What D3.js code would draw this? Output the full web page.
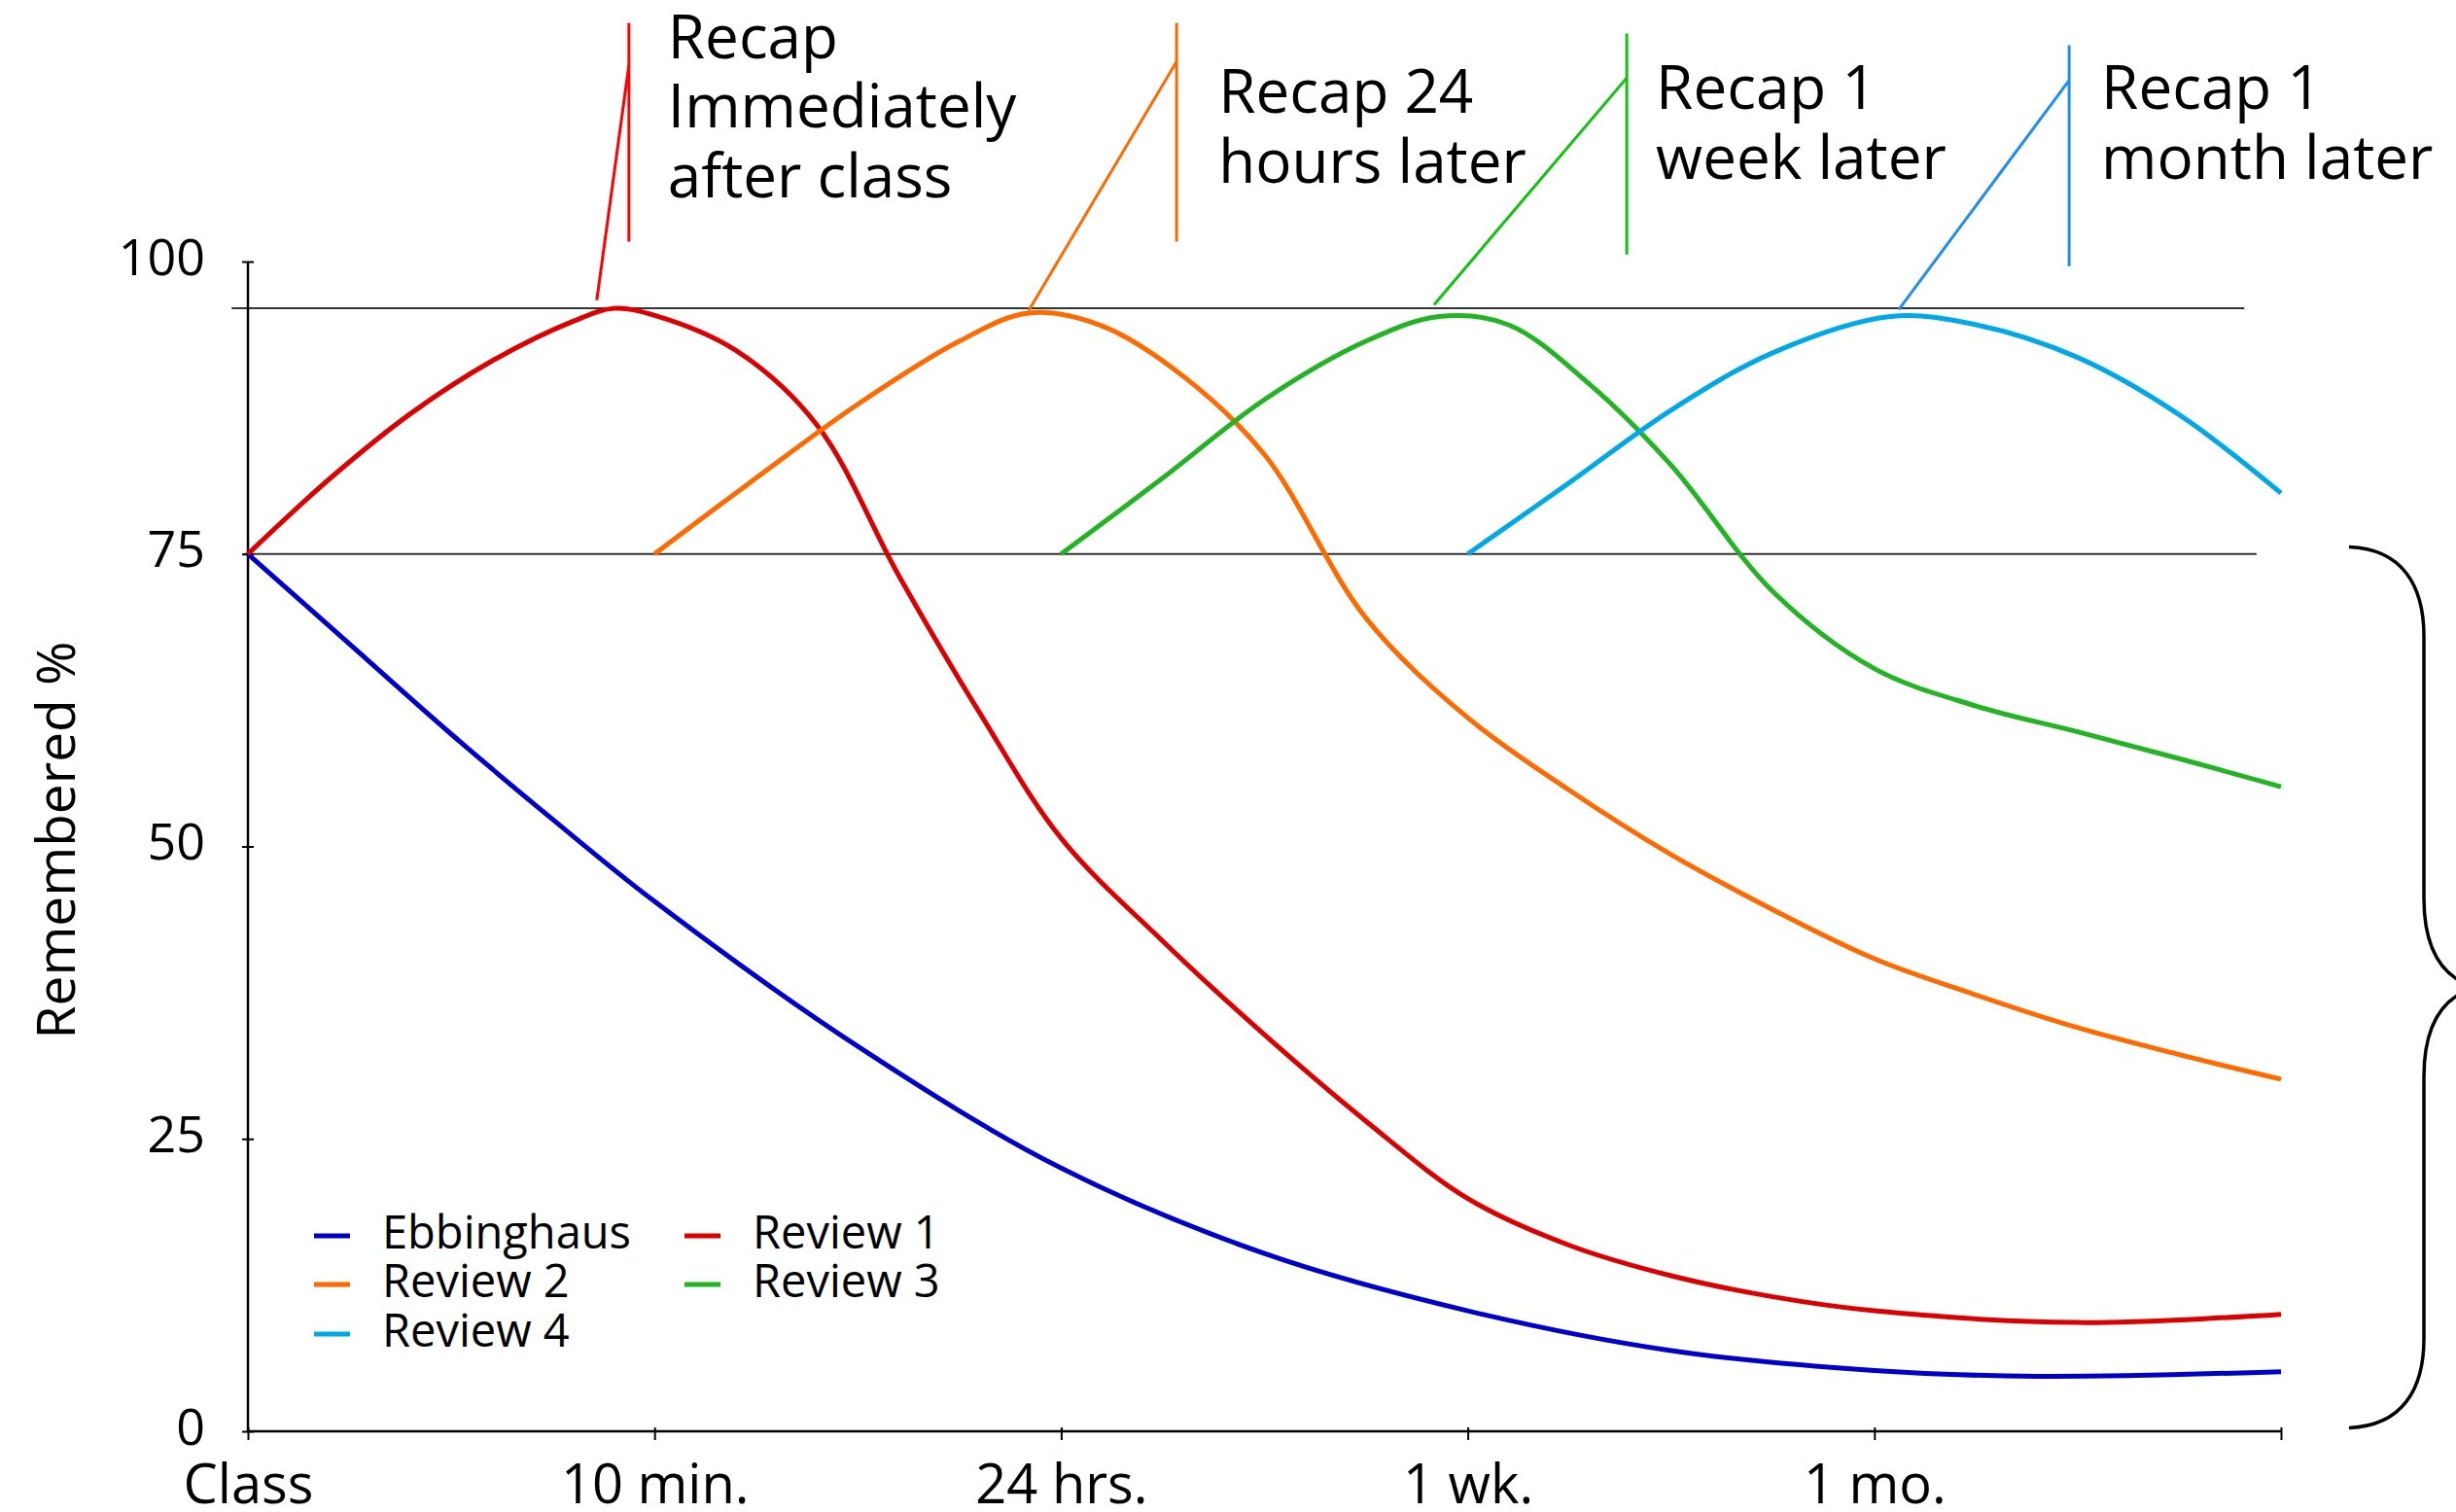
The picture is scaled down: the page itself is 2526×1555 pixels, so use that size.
<!DOCTYPE html>
<html>
<head>
<meta charset="utf-8">
<script src="https://cdn.jsdelivr.net/npm/d3@7"></script>
<style>
  html, body { margin: 0; padding: 0; background: #ffffff; }
  svg { display: block; }
  text { font-family: "Open Sans", "Noto Sans", sans-serif; fill: #000; }
</style>
</head>
<body>
<svg id="chart" width="2526" height="1555"></svg>
<script>
// ---------- data ----------
const categories = ["Class", "10 min.", "24 hrs.", "1 wk.", "1 mo.", ""];
const yTickValues = [0, 25, 50, 75, 100];
const seriesNames = ["Ebbinghaus", "Review 1", "Review 2", "Review 3", "Review 4"];
const seriesColors = ["#0000cc", "#dd0000", "#ff6a00", "#22b422", "#00a8e8"];
const leaderColors = ["#ff0000", "#ff6a00", "#11c211", "#1e8ff0"];
const referenceLevels = [96, 75];

// [time position (category index), remembered %]
const ebbinghaus = [[0,75],[0.25,67.3],[0.5,59.6],[0.75,52.3],[1,45.3],[1.5,32.9],[2,22.5],[2.5,15.2],[3,10.3],[3.5,6.9],[4,5.2],[4.4,4.7],[5,5.1]];
const review1 = [[0,75],[0.2,81.4],[0.4,87.0],[0.6,91.5],[0.8,94.9],[0.9,96.0],[1.0,95.4],[1.2,92.4],[1.4,86.0],[1.6,73.2],[1.8,61.4],[2,50.7],[2.25,41.9],[2.5,33.9],[2.75,26.5],[3,19.9],[3.25,15.9],[3.5,13.3],[3.75,11.5],[4,10.3],[4.5,9.3],[5,10]];
const review2 = [[1,75],[1.25,81.5],[1.5,87.8],[1.75,93.2],[1.92,95.6],[2.1,94.5],[2.3,90.2],[2.5,83.5],[2.75,69.5],[3,61],[3.25,54.8],[3.5,49.3],[3.75,44.6],[4,40.4],[4.25,37.3],[4.5,34.5],[4.75,32.2],[5,30.1]];
const review3 = [[2,75],[2.25,81.5],[2.5,88.2],[2.75,93.2],[2.93,95.3],[3.1,94.6],[3.3,89.5],[3.5,82.6],[3.75,71.8],[4,65.2],[4.25,62.0],[4.5,59.8],[4.75,57.5],[5,55.1]];
const review4 = [[3,75],[3.25,81.1],[3.5,87.3],[3.75,92.2],[4.04,95.3],[4.25,94.6],[4.5,91.8],[4.75,86.9],[5,80.2]];
const seriesData = [ebbinghaus, review1, review2, review3, review4];

const recapLabels = [
  ["Recap", "Immediately", "after class"],
  ["Recap 24", "hours later"],
  ["Recap 1", "week later"],
  ["Recap 1", "month later"]
];

// ---------- layout ----------
const svg = d3.select("#chart");
svg.append("rect").attr("width", 2526).attr("height", 1555).attr("fill", "#fff");

const x = d3.scaleLinear().domain([0, 5]).range([255, 2346]);
const y = d3.scaleLinear().domain([0, 100]).range([1472, 269]);

// reference lines
const refExtents = [[-0.04, 4.91], [-0.01, 4.94]];
referenceLevels.forEach((lv, i) => {
  svg.append("line")
    .attr("x1", x(refExtents[i][0])).attr("x2", x(refExtents[i][1]))
    .attr("y1", y(lv)).attr("y2", y(lv))
    .attr("stroke", "#333").attr("stroke-width", 2);
});

// axes
const yAxis = d3.axisLeft(y).tickValues(yTickValues).tickSize(6).tickFormat(d3.format("d"));
const gy = svg.append("g").attr("transform", `translate(${x(0)},0)`).call(yAxis);
gy.select(".domain").remove();
gy.append("line").attr("x1", 0).attr("x2", 0).attr("y1", y(0)).attr("y2", y(100))
  .attr("stroke", "#000").attr("stroke-width", 2.5);
gy.selectAll(".tick line").attr("x1", -6).attr("x2", 6).attr("stroke", "#000").attr("stroke-width", 2);
gy.selectAll(".tick text").attr("x", -44).attr("dy", null).attr("y", 13)
  .style("font-size", "52px").style("font-family", "'Open Sans', sans-serif").attr("fill", "#000");

const xAxis = d3.axisBottom(x).tickValues(d3.range(categories.length)).tickSize(8)
  .tickFormat(i => categories[i]);
const gx = svg.append("g").attr("transform", `translate(0,${y(0)})`).call(xAxis);
gx.select(".domain").remove();
gx.append("line").attr("x1", x(0)).attr("x2", x(5)).attr("y1", 0).attr("y2", 0)
  .attr("stroke", "#000").attr("stroke-width", 2.5);
gx.selectAll(".tick line").attr("y1", -4).attr("y2", 9).attr("stroke", "#000").attr("stroke-width", 2);
gx.selectAll(".tick text").attr("dy", null).attr("y", 74)
  .style("font-size", "56px").style("font-family", "'Open Sans', sans-serif").attr("fill", "#000");

// axis title
svg.append("text")
  .attr("transform", "translate(77,864) rotate(-90)")
  .attr("text-anchor", "middle")
  .style("font-size", "55px")
  .text("Remembered %");

// curves
const line = d3.line().x(d => x(d[0])).y(d => y(d[1])).curve(d3.curveCatmullRom.alpha(0.5));
seriesData.forEach((s, i) => {
  svg.append("path").datum(s)
    .attr("d", line)
    .attr("fill", "none")
    .attr("stroke", seriesColors[i])
    .attr("stroke-width", 5)
    .attr("stroke-linejoin", "round");
});

// annotations (in data units)
const annot = [
  { anchor: [0.858, 96.7], lineT: 0.937, elbowV: 116.8, top: 120.4, bottom: 101.7, dx: 40, firstV: 117.4 },
  { anchor: [1.920, 95.8], lineT: 2.284, elbowV: 117.1, top: 120.4, bottom: 101.7, dx: 43, firstV: 112.7 },
  { anchor: [2.917, 96.3], lineT: 3.391, elbowV: 115.7, top: 119.5, bottom: 100.6, dx: 30, firstV: 113.05 },
  { anchor: [4.060, 95.9], lineT: 4.479, elbowV: 115.5, top: 118.5, bottom: 99.6, dx: 33, firstV: 113.05 }
];
annot.forEach((a, i) => {
  const g = svg.append("g");
  g.append("line")
    .attr("x1", x(a.lineT)).attr("x2", x(a.lineT))
    .attr("y1", y(a.top)).attr("y2", y(a.bottom))
    .attr("stroke", leaderColors[i]).attr("stroke-width", 3);
  g.append("line")
    .attr("x1", x(a.anchor[0])).attr("y1", y(a.anchor[1]))
    .attr("x2", x(a.lineT)).attr("y2", y(a.elbowV))
    .attr("stroke", leaderColors[i]).attr("stroke-width", 3);
  const t = g.append("text")
    .attr("x", x(a.lineT) + a.dx).attr("y", y(a.firstV))
    .style("font-size", "62px");
  recapLabels[i].forEach((s, k) => {
    t.append("tspan").attr("x", x(a.lineT) + a.dx).attr("dy", k === 0 ? 0 : 71.5).text(s);
  });
});

// legend (2 columns, row-major)
const legendCols = [323, 704];
const legendRows = [1271, 1321, 1372];
seriesNames.forEach((name, i) => {
  const cx = legendCols[i % 2], cy = legendRows[Math.floor(i / 2)];
  svg.append("line").attr("x1", cx).attr("x2", cx + 37).attr("y1", cy).attr("y2", cy)
    .attr("stroke", seriesColors[i]).attr("stroke-width", 5);
  svg.append("text").attr("x", cx + 70).attr("y", cy + 13)
    .style("font-size", "47px").text(name);
});

// brace on the right spanning 0..75
const bx = x(5);
const yt = y(75.6), yb = y(0.3), ym = (yt + yb) / 2;
const brace = d3.path();
brace.moveTo(bx + 70, yt);
brace.bezierCurveTo(bx + 125, yt + 2, bx + 147, yt + 40, bx + 147, yt + 92);
brace.lineTo(bx + 147, ym - 92);
brace.bezierCurveTo(bx + 147, ym - 40, bx + 165, ym - 10, bx + 200, ym);
brace.bezierCurveTo(bx + 165, ym + 10, bx + 147, ym + 40, bx + 147, ym + 92);
brace.lineTo(bx + 147, yb - 92);
brace.bezierCurveTo(bx + 147, yb - 40, bx + 125, yb - 2, bx + 70, yb);
svg.append("path").attr("d", brace.toString()).attr("fill", "none")
  .attr("stroke", "#000").attr("stroke-width", 3.5);
</script>
</body>
</html>
